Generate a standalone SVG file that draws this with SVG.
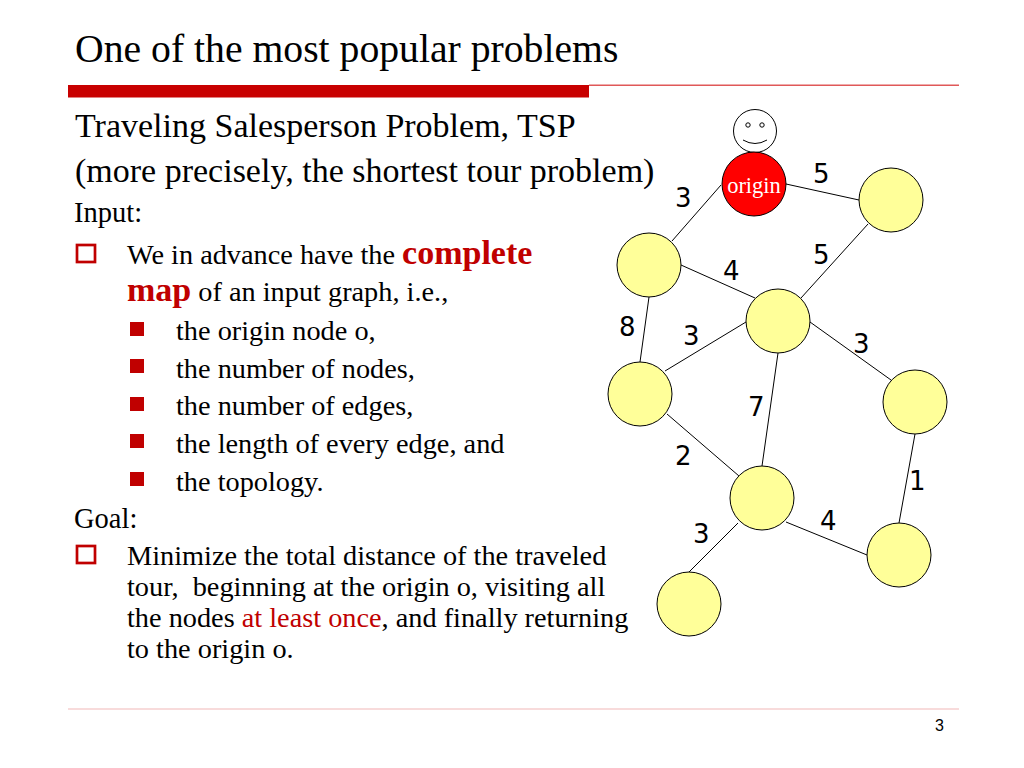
<svg xmlns="http://www.w3.org/2000/svg" width="1024" height="768" viewBox="0 0 1024 768">
<style>
text{font-family:"Liberation Serif","Times New Roman",serif;fill:#000;white-space:pre}
.t{font-size:28.500px}
.s{font-size:34px}
.l{font-size:28.300px}
.r{fill:#c00000}
.bd{font-weight:bold;font-size:34px;fill:#c00000}
.n{font-family:"DejaVu Sans","Liberation Sans",sans-serif;font-size:26px}
.nd{fill:#ffff99;stroke:#000;stroke-width:1}
.e{stroke:#000;stroke-width:1;fill:none}
.sq{fill:#fff;stroke:#c00000;stroke-width:2.7}
.fb{fill:#c00000}
</style>
<rect width="1024" height="768" fill="#fff"/>
<g id="slide">
<text x="75" y="62" style="font-size:39.700px">One of the most popular problems</text>
<rect x="68" y="85" width="521" height="12.500" fill="#c80000"/>
<rect x="589" y="84.500" width="370" height="1.500" fill="#e05858"/>
<rect x="68" y="708.500" width="891" height="1" fill="#f2b8b8"/>
<text x="75" y="137" class="s">Traveling Salesperson Problem, TSP</text>
<text x="75" y="182" class="s">(more precisely, the shortest tour problem)</text>
<text x="74" y="222" class="t">Input:</text>
<rect x="77" y="245" width="18" height="17" class="sq"/>
<text x="127" y="264" class="l">We in advance have the <tspan class="bd">complete</tspan></text>
<text x="127" y="301" class="l"><tspan class="bd">map</tspan> of an input graph, i.e.,</text>
<rect x="130" y="322" width="14" height="14" class="fb"/>
<text x="176" y="340" class="l">the origin node o,</text>
<rect x="130" y="359" width="14" height="14" class="fb"/>
<text x="176" y="378" class="l">the number of nodes,</text>
<rect x="130" y="397" width="14" height="14" class="fb"/>
<text x="176" y="415" class="l">the number of edges,</text>
<rect x="130" y="434" width="14" height="14" class="fb"/>
<text x="176" y="453" class="l">the length of every edge, and</text>
<rect x="130" y="472" width="14" height="14" class="fb"/>
<text x="176" y="491" class="l">the topology.</text>
<text x="74" y="528" class="t">Goal:</text>
<rect x="77" y="546" width="18" height="17" class="sq"/>
<text x="127" y="565" class="l">Minimize the total distance of the traveled</text>
<text x="127" y="596" class="l">tour,  beginning at the origin o, visiting all</text>
<text x="127" y="627" class="l">the nodes <tspan class="r">at least once</tspan>, and finally returning</text>
<text x="127" y="658" class="l">to the origin o.</text>
<text x="935" y="731" style="font-family:'Liberation Sans',sans-serif;font-size:16px">3</text>
</g>
<g id="connectors">
<line class="e" x1="721" y1="185" x2="672" y2="241"/>
<line class="e" x1="786" y1="184" x2="859" y2="200"/>
<line class="e" x1="681" y1="265" x2="755" y2="298"/>
<line class="e" x1="868" y1="224" x2="801" y2="298"/>
<line class="e" x1="649" y1="297" x2="640" y2="362"/>
<line class="e" x1="746" y1="322" x2="665" y2="371"/>
<line class="e" x1="810" y1="322" x2="891" y2="380"/>
<line class="e" x1="778" y1="353" x2="762" y2="466"/>
<line class="e" x1="667" y1="414" x2="739" y2="476"/>
<line class="e" x1="915" y1="434" x2="899" y2="523"/>
<line class="e" x1="786" y1="522" x2="867" y2="555"/>
<line class="e" x1="738" y1="523" x2="689" y2="572"/>
</g>
<g id="face" fill="#fff" stroke="#000" stroke-width="1">
<circle cx="755" cy="131" r="21.500"/>
<circle cx="748" cy="125" r="2.200"/>
<circle cx="762" cy="125" r="2.200"/>
<path d="M743 140Q755 147 767 140" fill="none"/>
</g>
<g id="node-origin">
<circle cx="754" cy="184" r="32" fill="#ff0000" stroke="#000"/>
<text x="754" y="193" text-anchor="middle" style="font-size:22.500px;fill:#fff">origin</text>
</g>
<g id="node-a"><circle class="nd" cx="891" cy="200" r="32"/></g>
<g id="node-b"><circle class="nd" cx="649" cy="265" r="32"/></g>
<g id="node-c"><circle class="nd" cx="778" cy="321" r="32"/></g>
<g id="node-d"><circle class="nd" cx="640" cy="394" r="32"/></g>
<g id="node-e"><circle class="nd" cx="915" cy="402" r="32"/></g>
<g id="node-f"><circle class="nd" cx="762" cy="498" r="32"/></g>
<g id="node-g"><circle class="nd" cx="899" cy="555" r="32"/></g>
<g id="node-h"><circle class="nd" cx="689" cy="604" r="32"/></g>
<g id="labels">
<text class="n" x="675" y="207">3</text>
<text class="n" x="813" y="183">5</text>
<text class="n" x="813" y="264">5</text>
<text class="n" x="723" y="280">4</text>
<text class="n" x="619" y="336">8</text>
<text class="n" x="683" y="345">3</text>
<text class="n" x="853" y="353">3</text>
<text class="n" x="748" y="416">7</text>
<text class="n" x="675" y="465">2</text>
<text class="n" x="909" y="490">1</text>
<text class="n" x="820" y="530">4</text>
<text class="n" x="693" y="543">3</text>
</g>
</svg>
